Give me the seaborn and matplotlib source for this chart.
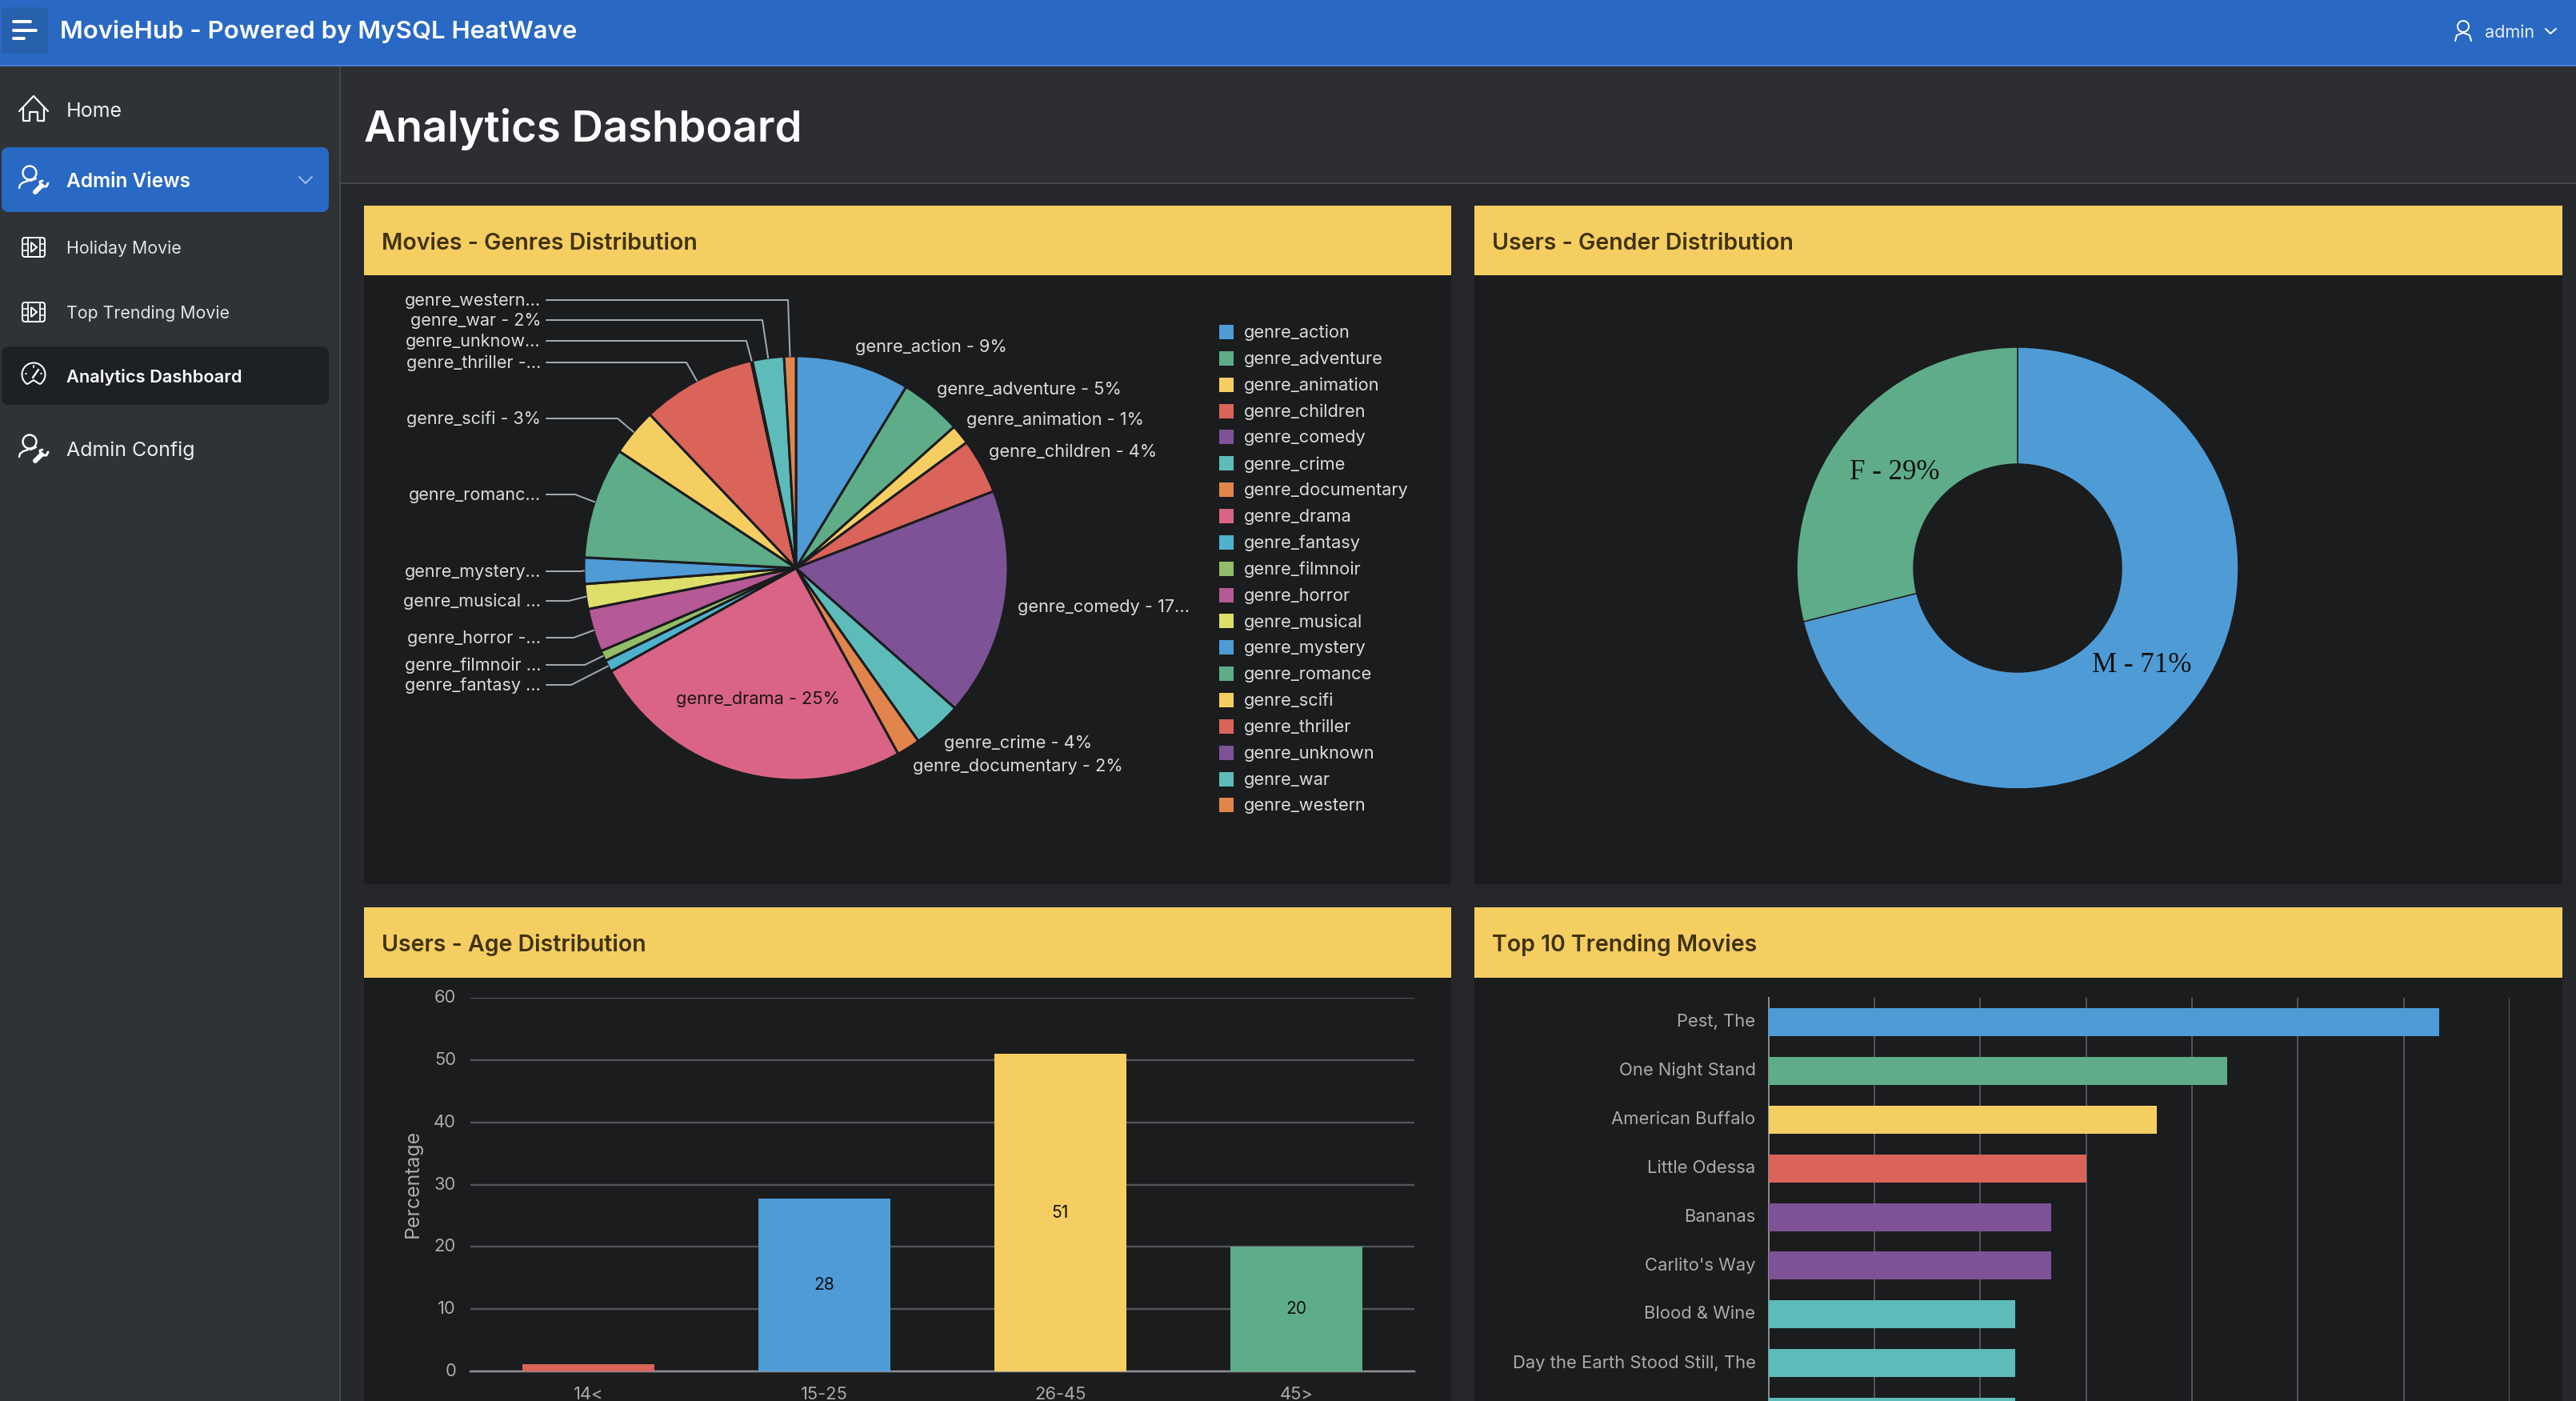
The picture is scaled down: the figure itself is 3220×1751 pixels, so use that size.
import numpy as np
import seaborn as sns
import matplotlib
matplotlib.use("Agg")
import matplotlib.pyplot as plt
from matplotlib.patches import Rectangle, FancyBboxPatch, Circle, Polygon, Arc
from matplotlib.transforms import ScaledTranslation

# data
genres = ["genre_action", "genre_adventure", "genre_animation", "genre_children", "genre_comedy",
          "genre_crime", "genre_documentary", "genre_drama", "genre_fantasy", "genre_filmnoir",
          "genre_horror", "genre_musical", "genre_mystery", "genre_romance", "genre_scifi",
          "genre_thriller", "genre_unknown", "genre_war", "genre_western"]
genre_share = [8.7, 4.7, 1.5, 4.2, 17.4, 3.7, 1.8, 24.9, 0.9, 0.8, 3.3, 1.9, 2.0, 8.5, 3.6, 8.7, 0.1, 2.4, 0.9]
genre_labels = ["genre_action - 9%", "genre_adventure - 5%", "genre_animation - 1%", "genre_children - 4%",
                "genre_comedy - 17...", "genre_crime - 4%", "genre_documentary - 2%", "genre_drama - 25%",
                "genre_fantasy ...", "genre_filmnoir ...", "genre_horror -...", "genre_musical ...",
                "genre_mystery...", "genre_romanc...", "genre_scifi - 3%", "genre_thriller -...",
                "genre_unknow...", "genre_war - 2%", "genre_western..."]

genders = ["M", "F"]
gender_share = [71.1, 28.9]
gender_labels = ["M - 71%", "F - 29%"]

age_groups = ["14<", "15-25", "26-45", "45>"]
age_values = [1.2, 27.7, 51.0, 20.1]
age_labels = ["", "28", "51", "20"]

movies = ["Pest, The", "One Night Stand", "American Buffalo", "Little Odessa", "Bananas",
          "Carlito's Way", "Blood & Wine", "Day the Earth Stood Still, The", ""]
movie_counts = [19, 13, 11, 9, 8, 8, 7, 7, 7]

# colours
BLUE, GREEN, YELLOW, RED, PURPLE = "#4f9bd6", "#5fac89", "#f5ce62", "#da645a", "#7e5296"
TEAL, ORANGE, PINK, CYAN, LIME, MAGENTA, PALEYEL = ("#5dbcba", "#e1854c", "#d96485", "#4eb2ce",
                                                     "#92be69", "#b55a96", "#dede6a")
genre_colors = sns.color_palette([BLUE, GREEN, YELLOW, RED, PURPLE, TEAL, ORANGE, PINK, CYAN, LIME, MAGENTA,
                                  PALEYEL, BLUE, GREEN, YELLOW, RED, PURPLE, TEAL, ORANGE])
age_colors = [RED, BLUE, YELLOW, GREEN]
movie_colors = [BLUE, GREEN, YELLOW, RED, PURPLE, PURPLE, TEAL, TEAL, TEAL]

NAVBAR = "#2a69c3"
SIDEBAR = "#2f3337"
MAIN = "#25272a"
BAND = "#2d2e33"
CARD = "#1b1c1e"
HEAD_TXT = "#40330f"
LABEL = "#d9dbdc"
TICK = "#a9abad"
GRID = "#515356"

W, H = 3220, 1751

sns.set_theme(style="dark")
plt.rcParams["font.family"] = ["Inter", "DejaVu Sans"]
plt.rcParams["axes.unicode_minus"] = False


def pt(px):
    return px * 0.72


fig = plt.figure(figsize=(W / 100, H / 100), dpi=100, facecolor=MAIN)


def px_axes(left, top, right, bottom, **kw):
    a = fig.add_axes([left / W, 1 - bottom / H, (right - left) / W, (bottom - top) / H], **kw)
    a.set_facecolor("none")
    return a


page = px_axes(0, 0, W, H, zorder=0)
page.set_xlim(0, W)
page.set_ylim(H, 0)
page.axis("off")
over = px_axes(0, 0, W, H, zorder=10)
over.set_xlim(0, W)
over.set_ylim(H, 0)
over.axis("off")


def box(x0, y0, x1, y1, color, round_px=0):
    if round_px:
        page.add_patch(FancyBboxPatch((x0, y0), x1 - x0, y1 - y0, boxstyle=f"round,pad=0,rounding_size={round_px}",
                                      fc=color, ec="none"))
    else:
        page.add_patch(Rectangle((x0, y0), x1 - x0, y1 - y0, fc=color, ec="none"))


def txt(x, y, s, size, color="white", weight="normal", ha="left", **kw):
    return over.text(x, y + 2, s, fontsize=pt(size), color=color, fontweight=weight, ha=ha, va="center", **kw)


def stroke(xs, ys, color="white", lw=2.2):
    page.plot(xs, ys, color=color, lw=pt(lw), solid_capstyle="round", solid_joinstyle="round")


# page chrome
box(0, 0, W, 81, NAVBAR)
box(0, 81, W, 83, "#4a80d4")
box(2, 9, 60, 67, "#2760ac", 5)
box(0, 83, 424, H, SIDEBAR)
box(424, 83, 426, H, "#45484b")
box(426, 83, W, 229, BAND)
box(426, 228, W, 230, "#46474a")

for y0, x1 in [(27.5, 38), (38, 45), (48, 30)]:
    stroke([17, x1], [y0, y0], lw=4)
txt(75, 38, "MovieHub - Powered by MySQL HeatWave", 31.2, weight="semibold")
txt(455, 159, "Analytics Dashboard", 54.6, weight="semibold")

box(2, 184, 411, 265, "#2a69c3", 9)
box(2, 433, 411, 506, "#1e2124", 9)
txt(83, 137, "Home", 25, "#eceded")
txt(83, 225, "Admin Views", 24.5, weight="semibold")
txt(83, 309, "Holiday Movie", 21.3, "#e2e4e5")
txt(83, 390, "Top Trending Movie", 21.3, "#e2e4e5")
txt(83, 469, "Analytics Dashboard", 21.8, weight="semibold")
txt(83, 561, "Admin Config", 25, "#eceded")
stroke([374, 382, 390], [221, 229, 221], "#9fbde8", 2)


def home_icon(cx, cy):
    stroke([cx - 18, cx, cx + 18], [cy + 3, cy - 16, cy + 3])
    stroke([cx - 13, cx - 13, cx - 5, cx - 5, cx + 5, cx + 5, cx + 13, cx + 13],
           [cy - 2, cy + 15, cy + 15, cy + 4, cy + 4, cy + 15, cy + 15, cy - 2])


def user_tool_icon(cx, cy):
    page.add_patch(Circle((cx - 5, cy - 9), 8.5, fc="none", ec="white", lw=pt(2.4)))
    stroke([cx - 18, cx - 17, cx - 13, cx - 7], [cy + 10, cy + 6, cy + 3, cy + 1], lw=2.4)
    stroke([cx - 4, cx + 3], [cy + 1, cy - 2], lw=2.4)
    stroke([cx + 2, cx + 10], [cy + 15, cy + 7], lw=6)
    stroke([cx + 9, cx + 8, cx + 11], [cy + 7, cy + 2, cy + 1], lw=3)
    stroke([cx + 12, cx + 16, cx + 18], [cy + 8, cy + 8, cy + 4], lw=3)


def film_icon(cx, cy):
    page.add_patch(FancyBboxPatch((cx - 14, cy - 12), 28, 24, boxstyle="round,pad=0,rounding_size=3",
                                  fc="none", ec="white", lw=pt(2)))
    for dx in (-7.5, 7.5):
        stroke([cx + dx, cx + dx], [cy - 12, cy + 12], lw=1.8)
    for x0, x1 in [(cx - 14, cx - 7.5), (cx + 7.5, cx + 14)]:
        for dy in (-4, 4):
            stroke([x0, x1], [cy + dy, cy + dy], lw=1.6)
    page.add_patch(Polygon([(cx - 3, cy - 6), (cx + 4, cy), (cx - 3, cy + 6)], fc="none", ec="white", lw=pt(2)))


def gauge_icon(cx, cy):
    page.add_patch(Arc((cx, cy), 29, 29, theta1=125, theta2=55, ec="white", lw=pt(2)))
    stroke([cx - 8, cx - 6, cx, cx + 6, cx + 8], [cy + 12, cy + 11, cy + 7, cy + 11, cy + 12], lw=2)
    stroke([cx - 1, cx + 6], [cy + 4, cy - 6], lw=2.4)
    stroke([cx, cx], [cy - 11, cy - 9], lw=1.8)
    stroke([cx - 10, cx - 9], [cy - 1, cy - 1], lw=1.8)
    stroke([cx + 10, cx + 9], [cy - 1, cy - 1], lw=1.8)


home_icon(42, 136)
user_tool_icon(42, 225)
film_icon(42, 309)
film_icon(42, 390)
gauge_icon(42, 468)
user_tool_icon(42, 561)

page.add_patch(Circle((3079, 33), 7, fc="none", ec="white", lw=pt(2)))
stroke([3069, 3071, 3079, 3087, 3089], [51, 44, 41, 44, 51], lw=2)
txt(3106, 39, "admin", 21.6, "#e4ecf8")
stroke([3182, 3188, 3195], [36, 42, 36], lw=2)

# cards
card_titles = [(455, 257, 1814, 1105, "Movies - Genres Distribution"),
               (1843, 257, 3203, 1105, "Users - Gender Distribution"),
               (455, 1134, 1814, H + 10, "Users - Age Distribution"),
               (1843, 1134, 3203, H + 10, "Top 10 Trending Movies")]
for x0, y0, x1, y1, title in card_titles:
    box(x0, y0, x1, y1, CARD)
    box(x0, y0, x1, y0 + 87.5, YELLOW)
    txt(x0 + 22, y0 + 45, title, 28.5, HEAD_TXT, weight="semibold")

# genres pie
PIE_X, PIE_Y, PIE_R = 995, 710, 265
ax_pie = px_axes(PIE_X - PIE_R, PIE_Y - PIE_R, PIE_X + PIE_R, PIE_Y + PIE_R, zorder=5)
wedges, _ = ax_pie.pie(genre_share, colors=genre_colors, startangle=90, counterclock=False, radius=1,
                       wedgeprops=dict(edgecolor=CARD, linewidth=pt(3)))
ax_pie.set_xlim(-1, 1)
ax_pie.set_ylim(-1, 1)

# labels beside the pie: (x, y) of the text, knee of the leader line if it has one
outer_right = {0: (1069, 432), 1: (1171, 485), 2: (1208, 523), 3: (1236, 563), 4: (1272, 757),
               5: (1180, 927), 6: (1141, 956)}
outer_left = {8: (856, 714), 9: (831, 731), 10: (797, 717), 11: (751, 711), 12: (714, 725), 13: (618, 719),
              14: (523, 772), 15: (453, 858), 16: (426, 933), 17: (400, 953), 18: (375, 985)}
for i, (x, y) in outer_right.items():
    txt(x, y, genre_labels[i], 21.8, LABEL)
txt(845, 872, genre_labels[7], 21.8, "#1c1516")
for i, (y, knee) in outer_left.items():
    txt(676, y - 1, genre_labels[i], 21.6, LABEL, ha="right")
    mid = np.deg2rad((wedges[i].theta1 + wedges[i].theta2) / 2)
    over.plot([683, knee, PIE_X + PIE_R * np.cos(mid)], [y, y, PIE_Y - PIE_R * np.sin(mid)],
              color="#a3a8b0", lw=pt(2))

for i, name in enumerate(genres):
    y = 415 + i * 32.86
    page.add_patch(Rectangle((1524, y - 9), 18, 18, fc=genre_colors[i], ec="none"))
    txt(1555, y - 1, name, 21.8, LABEL)

# gender donut
DON_X, DON_Y, DON_R = 2522, 710, 276
ax_don = px_axes(DON_X - DON_R, DON_Y - DON_R, DON_X + DON_R, DON_Y + DON_R, zorder=5)
ax_don.pie(gender_share, colors=[BLUE, GREEN], startangle=90, counterclock=False, radius=1,
           wedgeprops=dict(width=1 - 130 / DON_R, edgecolor=CARD, linewidth=pt(1.5)))
ax_don.set_xlim(-1, 1)
ax_don.set_ylim(-1, 1)
for (x, y), lab in zip([(2677, 829), (2368, 588)], gender_labels):
    txt(x, y, lab, 35, "#111213", ha="center", family=["Liberation Serif", "DejaVu Serif"])

# age bars
ax_age = px_axes(588, 1247, 1768, 1714, zorder=5)
sns.barplot(x=age_groups, y=age_values, hue=age_groups, palette=age_colors, width=0.56, saturation=1,
            legend=False, ax=ax_age, zorder=3, linewidth=0)
ax_age.set_xlim(-0.5, 3.5)
ax_age.set_ylim(0, 60)
ax_age.set_yticks(range(0, 61, 10))
ax_age.grid(axis="y", color=GRID, lw=pt(2.5), zorder=0)
ax_age.grid(axis="x", visible=False)
ax_age.set_axisbelow(True)
ax_age.tick_params(length=0, labelsize=pt(22), labelcolor=TICK)
ax_age.tick_params(axis="y", pad=pt(18))
ax_age.tick_params(axis="x", pad=pt(19))
for lab in ax_age.get_yticklabels():
    lab.set_transform(lab.get_transform() + ScaledTranslation(0, 2 / 100, fig.dpi_scale_trans))
for name in ("top", "left", "right"):
    ax_age.spines[name].set_visible(False)
ax_age.spines["bottom"].set_color("#8b8d90")
ax_age.spines["bottom"].set_linewidth(pt(2.5))
ax_age.set_ylabel("Percentage", fontsize=pt(25), color=TICK, va="center")
ax_age.yaxis.set_label_coords((516 - 588) / 1180, (1714 - 1479) / 467)
for bars, lab in zip(ax_age.containers, age_labels):
    ax_age.bar_label(bars, labels=[lab], label_type="center", fontsize=pt(21), color="#111213")

# trending bars, the axis runs past the bottom of the page
ax_top = px_axes(2210.6, 1247, 3137, 1856, zorder=5)
sns.barplot(y=movies, x=movie_counts, hue=movies, palette=movie_colors, width=0.575, saturation=1,
            legend=False, orient="h", ax=ax_top, zorder=3, linewidth=0)
ax_top.set_xlim(0, 21)
ax_top.set_ylim(9.5, -0.5)
ax_top.set_xticks(range(0, 22, 3))
ax_top.grid(axis="x", color=GRID, lw=pt(2), zorder=0)
ax_top.grid(axis="y", visible=False)
ax_top.set_axisbelow(True)
ax_top.tick_params(length=0, labelsize=pt(22), labelcolor=TICK, labelbottom=False)
ax_top.tick_params(axis="y", pad=pt(16))
shift_up = ScaledTranslation(0, 2.5 / 100, fig.dpi_scale_trans)
for lab in ax_top.get_yticklabels():
    lab.set_transform(lab.get_transform() + shift_up)
for name in ("top", "bottom", "right"):
    ax_top.spines[name].set_visible(False)
ax_top.spines["left"].set_color("#8b8d90")
ax_top.spines["left"].set_linewidth(pt(2))

fig.savefig("out.png", dpi=100, facecolor=MAIN)
